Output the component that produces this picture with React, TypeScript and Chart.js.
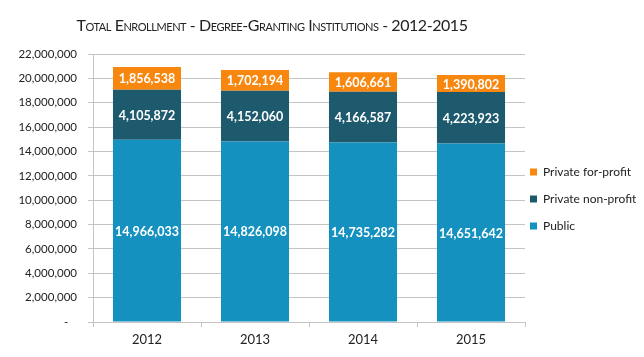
import React, { useEffect, useRef } from 'react';
import { Chart, registerables } from 'chart.js';

Chart.register(...registerables);

// ---- data ----
const years = ['2012', '2013', '2014', '2015'];
const publicValues = [14966033, 14826098, 14735282, 14651642];
const nonProfitValues = [4105872, 4152060, 4166587, 4223923];
const forProfitValues = [1856538, 1702194, 1606661, 1390802];
const seriesNames = ['Public', 'Private non-profit', 'Private for-profit'];
const titleText = 'Total Enrollment - Degree-Granting Institutions - 2012-2015';
const yMin = 0;
const yMax = 22000000;
const yStep = 2000000;

// ---- styles ----
const colors = ['#1591BF', '#1E5A6E', '#F8870F'];
const gridColor = '#C4C4C4';
const textColor = '#222222';
const fontFamily = 'Lato, "Open Sans", sans-serif';

const valueLabels = {
  id: 'valueLabels',
  afterDatasetsDraw(chart: any) {
    const ctx = chart.ctx;
    ctx.save();
    ctx.font = `bold 12.5px ${fontFamily}`;
    ctx.fillStyle = '#ffffff';
    ctx.textAlign = 'center';
    ctx.textBaseline = 'middle';
    chart.data.datasets.forEach((ds: any, i: number) => {
      const meta = chart.getDatasetMeta(i);
      meta.data.forEach((el: any, j: number) => {
        const p = el.getCenterPoint();
        ctx.fillText(Number(ds.data[j]).toLocaleString('en-US'), p.x, p.y + 1);
      });
    });
    ctx.restore();
  },
};

const legendShift = {
  id: 'legendShift',
  afterLayout(chart: any) {
    const lg = chart.legend;
    if (!lg) return;
    const pad = lg.options.labels.padding;
    const dx = chart.chartArea.right + 5 - (lg.left + pad);
    lg.left += dx;
  },
};

export default function App() {
  const ref = useRef<HTMLCanvasElement | null>(null);

  useEffect(() => {
    if (!ref.current) return;
    const chart = new Chart(ref.current, {
      type: 'bar',
      data: {
        labels: years,
        datasets: [
          { label: seriesNames[0], data: publicValues, backgroundColor: colors[0] },
          { label: seriesNames[1], data: nonProfitValues, backgroundColor: colors[1] },
          { label: seriesNames[2], data: forProfitValues, backgroundColor: colors[2] },
        ],
      },
      plugins: [valueLabels, legendShift],
      options: {
        responsive: false,
        animation: false,
        events: [],
        datasets: {
          bar: { categoryPercentage: 1, barPercentage: 0.63, borderWidth: 0 },
        },
        layout: { padding: { top: 46, bottom: 5, left: 0, right: 0 } },
        plugins: {
          title: { display: false },
          tooltip: { enabled: false },
          legend: {
            position: 'right',
            reverse: true,
            maxWidth: 111,
            labels: {
              boxWidth: 7,
              boxHeight: 7,
              padding: 15,
              color: textColor,
              font: { family: fontFamily, size: 12 },
            },
          },
        },
        scales: {
          x: {
            stacked: true,
            afterFit: (s: any) => { s.height = 22; },
            grid: {
              drawOnChartArea: false,
              drawTicks: true,
              tickLength: 5,
              color: gridColor,
              offset: true,
            },
            border: { display: true, color: gridColor },
            ticks: {
              color: textColor,
              padding: 5,
              font: { family: fontFamily, size: 13 },
            },
          },
          y: {
            stacked: true,
            min: yMin,
            max: yMax,
            afterFit: (s: any) => { s.width = 85; },
            grid: {
              color: gridColor,
              drawTicks: true,
              tickLength: 5,
            },
            border: { display: true, color: gridColor },
            ticks: {
              stepSize: yStep,
              color: textColor,
              padding: 11,
              font: { family: fontFamily, size: 11.5 },
              callback: (v: any) => (Number(v) === 0 ? '-   ' : Number(v).toLocaleString('en-US')),
            },
          },
        },
      },
    });
    return () => chart.destroy();
  }, []);

  return (
    <div style={{ position: 'relative', width: 628, height: 341 }}>
      <canvas ref={ref} width={628} height={341} style={{ display: 'block' }} />
      <div
        style={{
          position: 'absolute',
          left: 0,
          top: 9,
          width: 528,
          textAlign: 'center',
          fontFamily,
          fontSize: 16,
          lineHeight: '16px',
          fontVariant: 'small-caps',
          letterSpacing: '-0.45px',
          color: textColor,
          whiteSpace: 'nowrap',
        }}
      >
        {titleText}
      </div>
    </div>
  );
}
